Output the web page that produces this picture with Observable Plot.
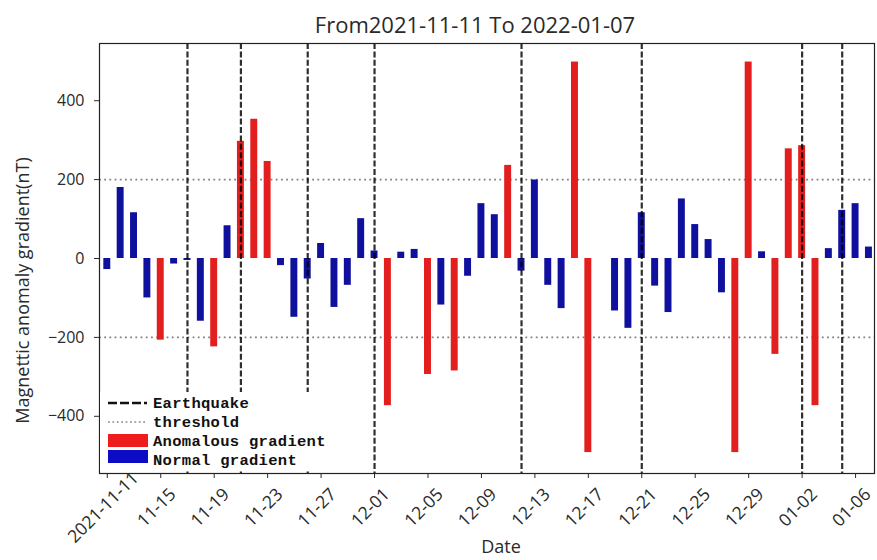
<!DOCTYPE html>
<html>
<head>
<meta charset="utf-8">
<script src="https://cdn.jsdelivr.net/npm/d3@7"></script>
<script src="https://cdn.jsdelivr.net/npm/@observablehq/plot@0.6"></script>
<style>
  body { margin: 0; background: #fff; }
  #chart { position: relative; width: 877px; height: 560px; }
  #legend { position: absolute; left: 100px; top: 392px; width: 240px; height: 79px; background: #fff; }
  #legend svg text { font-family: "Liberation Mono", monospace; font-weight: bold; font-size: 15.5px; letter-spacing: 0.3px; fill: #111; }
</style>
</head>
<body>
<div id="chart"></div>
<script>
// ---- data ----
const startDate = "2021-11-11";
const endDate = "2022-01-07";
const values = [
  -28, 180, 116, -100, -207, -14, -5, -159, -224, 83,
  297, 353, 246, -18, -149, -52, 38, -124, -68, 101,
  19, -373, 16, 23, -294, -118, -285, -45, 139, 111,
  236, -32, 199, -68, -127, 498, -492, 0, -133, -177,
  116, -70, -137, 151, 86, 48, -87, -492, 498, 17,
  -243, 278, 286, -373, 25, 122, 139, 29
];
const earthquakeDates = ["2021-11-17", "2021-11-21", "2021-11-26", "2021-12-01", "2021-12-12", "2021-12-21", "2022-01-02", "2022-01-05"];
const thresholds = [200, -200];
const yTicks = [-400, -200, 0, 200, 400];
const xTickLabels = ["2021-11-11", "11-15", "11-19", "11-23", "11-27", "12-01", "12-05", "12-09", "12-13", "12-17", "12-21", "12-25", "12-29", "01-02", "01-06"];
const xTickDates = ["2021-11-11", "2021-11-15", "2021-11-19", "2021-11-23", "2021-11-27", "2021-12-01", "2021-12-05", "2021-12-09", "2021-12-13", "2021-12-17", "2021-12-21", "2021-12-25", "2021-12-29", "2022-01-02", "2022-01-06"];
const titleText = "From2021-11-11 To 2022-01-07";
const yLabel = "Magnettic anomaly gradient(nT)";
const xLabel = "Date";
const thresholdValue = 200;

// ---- build ----
const days = d3.utcDay.range(new Date(startDate), d3.utcDay.offset(new Date(endDate), 1));
const data = days.map((d, i) => ({date: d, value: values[i], anomalous: Math.abs(values[i]) > thresholdValue}));
const HALF = 0.26 * 864e5;
const ticks = xTickDates.map((s, i) => ({date: new Date(s), label: xTickLabels[i]}));
const quakes = earthquakeDates.map(s => new Date(s));

const RED = "#e31e1e", BLUE = "#10109e";

const plot = Plot.plot({
  width: 877,
  height: 560,
  marginTop: 43,
  marginBottom: 87,
  marginLeft: 99,
  marginRight: 3,
  style: {fontFamily: "'Open Sans', sans-serif", color: "#2a2a2a", background: "#fff"},
  x: {type: "utc", domain: [new Date("2021-11-10T10:00Z"), new Date("2022-01-07T10:00Z")]},
  y: {domain: [-545, 545]},
  marks: [
    Plot.ruleY(thresholds, {y: d => d, stroke: "#808080", strokeWidth: 1.6, strokeDasharray: "1.8,3.4"}),
    Plot.rectY(data, {
      x1: d => new Date(+d.date - HALF),
      x2: d => new Date(+d.date + HALF),
      y1: 0,
      y2: "value",
      fill: d => d.anomalous ? RED : BLUE
    }),
    Plot.ruleX(quakes, {x: d => d, stroke: "#000", strokeOpacity: 0.82, strokeWidth: 2.2, strokeDasharray: "6,2.4"}),
    Plot.frame({stroke: "#222", strokeWidth: 1.2}),
    Plot.axisY({ticks: yTicks, tickSize: 5, tickPadding: 10, fontSize: 16, label: null}),
    Plot.axisX({ticks: ticks.map(t => t.date), tickSize: 5, tickFormat: () => "", label: null}),
    Plot.text(ticks, {x: "date", text: "label", frameAnchor: "bottom", dy: 38, rotate: -45, textAnchor: "middle", fontSize: 17.5}),
    Plot.text([titleText], {frameAnchor: "top", dy: -26, dx: -12, fontSize: 22}),
    Plot.text([yLabel], {frameAnchor: "left", textAnchor: "middle", dx: -76, dy: 32, rotate: -90, fontSize: 18}),
    Plot.text([xLabel], {frameAnchor: "bottom", dy: 79, dx: 14, fontSize: 18})
  ]
});

const chart = document.getElementById("chart");
chart.appendChild(plot);

// legend overlay (matplotlib-style, opaque box)
const legend = document.createElement("div");
legend.id = "legend";
legend.innerHTML = `
<svg width="240" height="79">
  <line x1="8" x2="47" y1="11" y2="11" stroke="#111" stroke-width="2.4" stroke-dasharray="9,3"/>
  <text x="53" y="15.5">Earthquake</text>
  <line x1="8" x2="47" y1="30" y2="30" stroke="#8a8a8a" stroke-width="1.5" stroke-dasharray="1.8,2.6"/>
  <text x="53" y="34.5">threshold</text>
  <rect x="8" y="42" width="40" height="13" fill="#ee1c1c"/>
  <text x="53" y="54">Anomalous gradient</text>
  <rect x="8" y="58" width="40" height="13" fill="#0c0cc4"/>
  <text x="53" y="73">Normal gradient</text>
</svg>`;
chart.appendChild(legend);
</script>
</body>
</html>
